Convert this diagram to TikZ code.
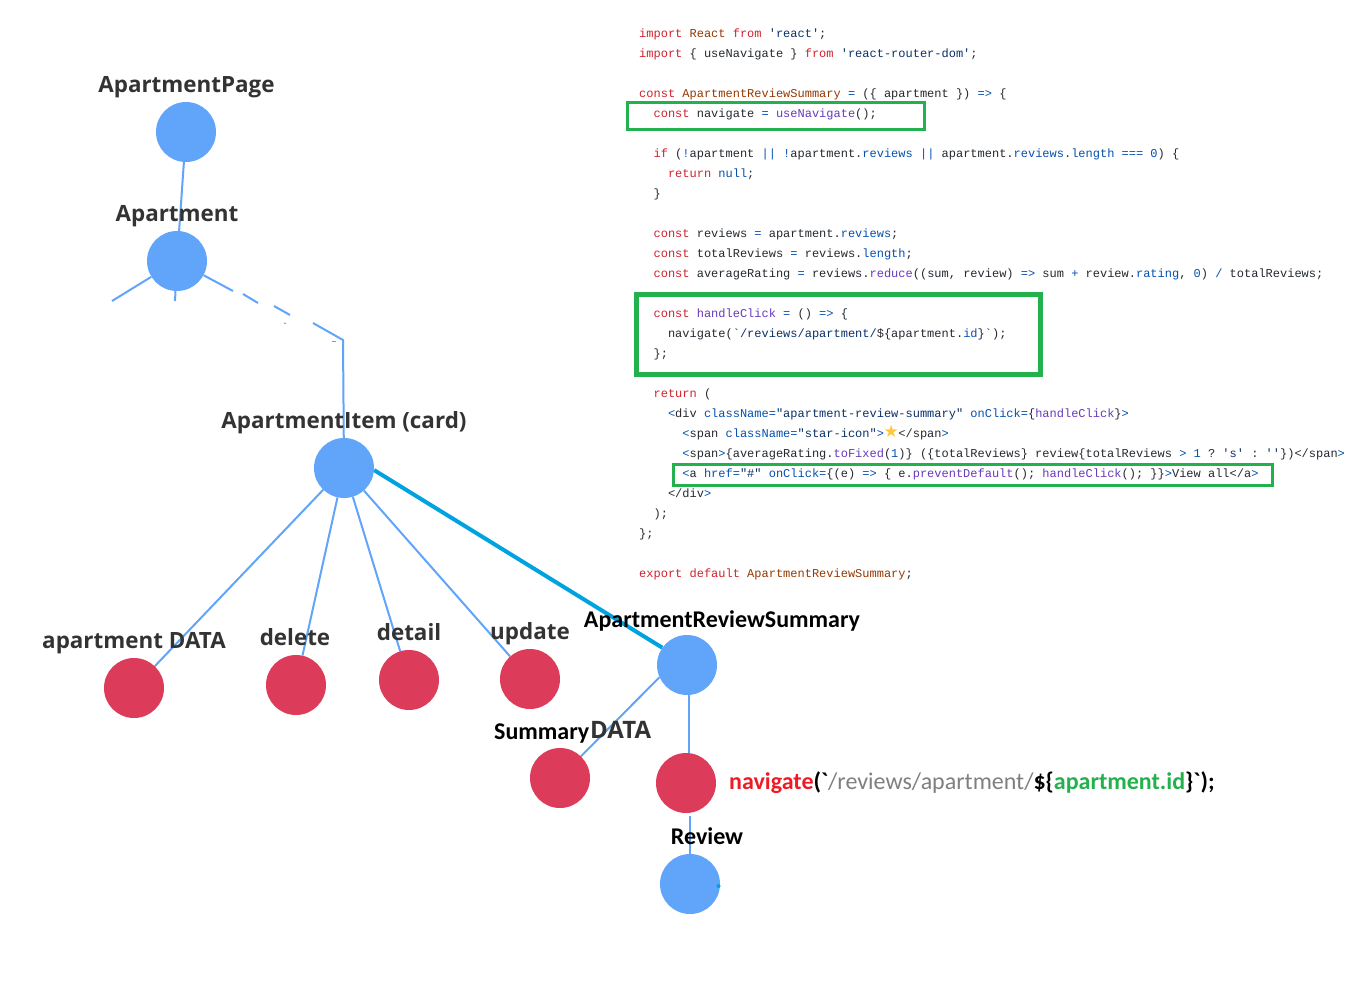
\documentclass[tikz,border=0pt]{standalone}
\usepackage{fontspec}
\usetikzlibrary{backgrounds}
\setmainfont{Open Sans}
\newfontfamily\codefont{Liberation Mono}
\newfontfamily\carlito{Carlito}
\newfontfamily\symfont{DejaVu Sans}
\definecolor{nodeblue}{HTML}{60A5FA}
\definecolor{nodered}{HTML}{DC3C5A}
\definecolor{linkcyan}{HTML}{00A2E0}
\definecolor{boxgreen}{HTML}{22B14C}
\definecolor{labelgrey}{HTML}{333333}
\definecolor{navred}{HTML}{ED1C24}
\definecolor{navgrey}{HTML}{7F7F7F}
\definecolor{ckw}{HTML}{CF222E}
\definecolor{cbr}{HTML}{953800}
\definecolor{cst}{HTML}{0A3069}
\definecolor{cbl}{HTML}{0550AE}
\definecolor{cfn}{HTML}{6639BA}
\definecolor{ctx}{HTML}{24292F}
\definecolor{starcol}{HTML}{FFC83D}
\newcommand{\kw}[1]{\textcolor{ckw}{#1}}
\newcommand{\br}[1]{\textcolor{cbr}{#1}}
\newcommand{\st}[1]{\textcolor{cst}{#1}}
\newcommand{\bl}[1]{\textcolor{cbl}{#1}}
\newcommand{\fn}[1]{\textcolor{cfn}{#1}}
\newcommand{\cl}[3]{\node[codeline] (c#1) at ({639+7.2*#2},{17+20*#1}) {#3};}
\tikzset{
  x=1pt,y=-1pt,
  codeline/.style={anchor=base west,inner sep=0pt,text=ctx,font=\codefont\fontsize{12}{12}\selectfont\frenchspacing},
  bluenode/.style={circle,fill=nodeblue,minimum size=60pt,inner sep=0pt},
  rednode/.style={circle,fill=nodered,minimum size=60pt,inner sep=0pt},
  link/.style={draw=nodeblue,line width=2pt},
  biglink/.style={draw=linkcyan,line width=4pt},
  greenbox/.style={draw=boxgreen,fill=none},
  treelabel/.style={anchor=base,inner sep=0pt,text=labelgrey,font=\fontsize{22.4}{24}\selectfont\bfseries},
  callabel/.style={anchor=base,inner sep=0pt,text=black,font=\carlito\fontsize{24}{24}\selectfont\bfseries}
}
\begin{document}
\begin{tikzpicture}
\useasboundingbox (0,0) rectangle (1362,980);
\node[bluenode] (page) at (186,132) {};
\node[bluenode] (apt) at (177,261) {};
\node[bluenode] (item) at (344,468) {};
\node[rednode] (data) at (134,688) {};
\node[rednode] (del) at (296,685) {};
\node[rednode] (det) at (409,680) {};
\node[rednode] (upd) at (530,679) {};
\node[bluenode] (ars) at (687,665) {};
\node[rednode] (sdata) at (560,778) {};
\node[rednode] (nav) at (686,783) {};
\node[bluenode] (rev) at (690,884) {};
\coordinate (aL) at (112,301);
\coordinate (aM) at (175,301);
\coordinate (r1a) at (233,291);
\coordinate (r2a) at (243,294);
\coordinate (r2b) at (258,303);
\coordinate (r3a) at (274,306);
\coordinate (r3b) at (290,315);
\coordinate (r4a) at (313,323);
\coordinate (bend) at (343,340);
\coordinate (s1a) at (284,323);
\coordinate (s1b) at (286,323.5);
\coordinate (s2a) at (332,341);
\coordinate (s2b) at (336,341);
\begin{scope}[on background layer]
\draw[link] (page) -- (apt);
\draw[link] (apt) -- (aL);
\draw[link] (apt) -- (aM);
\draw[link] (apt) -- (r1a);
\draw[link] (r2a) -- (r2b);
\draw[link] (r3a) -- (r3b);
\draw[link] (r4a) -- (bend) -- (item);
\draw[link,line width=1pt] (s1a) -- (s1b);
\draw[link,line width=1pt] (s2a) -- (s2b);
\draw[link] (item) -- (data);
\draw[link] (item) -- (del);
\draw[link] (item) -- (det);
\draw[link] (item) -- (upd);
\draw[biglink] (item.-4) -- (ars.145);
\draw[link] (ars.204) -- (sdata.46);
\draw[link] (ars.south) ++(2,0) coordinate (arsS) -- (arsS |- nav.north);
\draw[link,shorten <=3pt] (nav) ++(3.5,30) coordinate (navS) -- (navS |- rev.north);
\end{scope}
\node[circle,fill=linkcyan,minimum size=4pt,inner sep=0pt] (dot) at (718.5,886) {};
% labels
\node[treelabel] (lpage) at (186.5,92) {ApartmentPage};
\node[treelabel] (lapt) at (177,221) {Apartment};
\node[treelabel] (litem) at (344,428) {ApartmentItem (card)};
\node[treelabel] (ldata) at (134,648) {apartment DATA};
\node[treelabel] (ldel) at (295,645) {delete};
\node[treelabel] (ldet) at (409,640) {detail};
\node[treelabel] (lupd) at (530,639) {update};
\node[callabel] (lars) at (722,627) {ApartmentReviewSummary};
\node[callabel,anchor=base west] (lsum) at (494,739) {Summary};
\node[treelabel,anchor=base west,font=\fontsize{24}{24}\selectfont\bfseries] (lsd) at (590,738) {DATA};
\node[callabel] (lrev) at (707,844) {Review};
\node[anchor=base west,inner sep=0pt,font=\carlito\fontsize{24}{24}\selectfont] (lnav) at (729,789) {\textbf{\textcolor{navred}{navigate}}\textbf{(`}\textcolor{navgrey}{/reviews/apartment/}\textbf{\$\{}\textbf{\textcolor{boxgreen}{apartment.id}}\textbf{\}`);}};
% code
\cl{1}{0}{\kw{import} \br{React} \kw{from} \st{'react'};}
\cl{2}{0}{\kw{import} \{ useNavigate \} \kw{from} \st{'react-router-dom'};}
\cl{4}{0}{\kw{const} \br{ApartmentReviewSummary} \bl{=} (\{ apartment \}) \bl{=>} \{}
\cl{5}{2}{\kw{const} navigate \bl{=} \fn{useNavigate}();}
\cl{7}{2}{\kw{if} (\bl{!}apartment \bl{||} \bl{!}apartment.\bl{reviews} \bl{||} apartment.\bl{reviews}.\bl{length} \bl{===} \bl{0}) \{}
\cl{8}{4}{\kw{return} \bl{null};}
\cl{9}{2}{\}}
\cl{11}{2}{\kw{const} reviews \bl{=} apartment.\bl{reviews};}
\cl{12}{2}{\kw{const} totalReviews \bl{=} reviews.\bl{length};}
\cl{13}{2}{\kw{const} averageRating \bl{=} reviews.\fn{reduce}((sum, review) \bl{=>} sum \bl{+} review.\bl{rating}, \bl{0}) \bl{/} totalReviews;}
\cl{15}{2}{\kw{const} \fn{handleClick} \bl{=} () \bl{=>} \{}
\cl{16}{4}{navigate(\st{`/reviews/apartment/}\$\{apartment.\bl{id}\}\st{`});}
\cl{17}{2}{\};}
\cl{19}{2}{\kw{return} (}
\cl{20}{4}{\bl{<}div \bl{className=}\st{"apartment-review-summary"} \bl{onClick=}\{\fn{handleClick}\}\bl{>}}
\cl{21}{6}{\bl{<}span \bl{className=}\st{"star-icon"}\bl{>}\makebox[14.4pt]{\symfont\fontsize{17}{17}\selectfont\textcolor{starcol}{★}}</span\bl{>}}
\cl{22}{6}{\bl{<}span\bl{>}\{averageRating.\fn{toFixed}(\bl{1})\} (\{totalReviews\} review\{totalReviews \bl{>} \bl{1} ? \st{'s'} : \st{''}\})</span\bl{>}}
\cl{23}{6}{\bl{<}a \bl{href=}\st{"\#"} \bl{onClick=}\{(e) \bl{=>} \{ e.\fn{preventDefault}(); \fn{handleClick}(); \}\}\bl{>}View all</a\bl{>}}
\cl{24}{4}{</div\bl{>}}
\cl{25}{2}{);}
\cl{26}{0}{\};}
\cl{28}{0}{\kw{export} \kw{default} \br{ApartmentReviewSummary};}
% boxes
\draw[greenbox,line width=3pt] (627,102) rectangle (924,129);
\draw[greenbox,line width=5pt] (636.5,294.5) rectangle (1040.5,374);
\draw[greenbox,line width=3pt] (673,464) rectangle (1272,485);
\end{tikzpicture}
\end{document}
